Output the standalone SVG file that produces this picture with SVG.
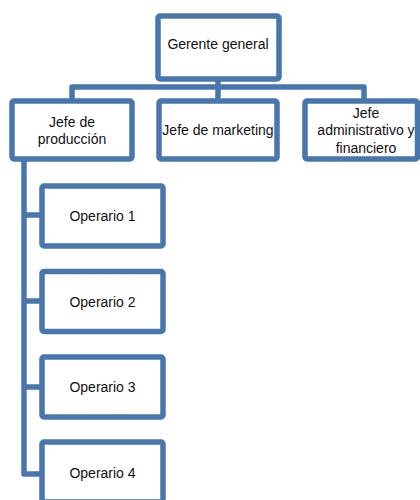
<svg xmlns="http://www.w3.org/2000/svg" width="420" height="500" viewBox="0 0 420 500">
<style>
.box{fill:#ffffff;stroke:#4a76ae;stroke-width:5.5}
.con{fill:none;stroke:#4a76ae;stroke-width:5.5;stroke-linejoin:round}
text{font-family:"Liberation Sans",Arial,sans-serif;font-size:14px;fill:#111111;text-anchor:middle}
</style>
<rect width="420" height="500" fill="#ffffff"/>
<g id="connectors">
<path class="con" d="M218 79V87M72 101V87H364V101M218 87V101"/>
<path class="con" d="M24 159V474H42M24 215H42M24 301H42M24 387H42"/>
</g>
<g id="gerente">
<rect class="box" x="158" y="16" width="121" height="63" rx="2"/>
<text x="218" y="49">Gerente general</text>
</g>
<g id="produccion">
<rect class="box" x="12" y="101" width="120" height="58" rx="2"/>
<text x="72" y="127">Jefe de</text>
<text x="72" y="144">producción</text>
</g>
<g id="marketing">
<rect class="box" x="159" y="101" width="118" height="58" rx="2"/>
<text x="218" y="135">Jefe de marketing</text>
</g>
<g id="administrativo">
<rect class="box" x="305" y="101" width="112.5" height="58" rx="2"/>
<text x="366" y="118">Jefe</text>
<text x="366" y="135">administrativo y</text>
<text x="366" y="153">financiero</text>
</g>
<g id="operario1">
<rect class="box" x="42" y="186" width="121" height="60" rx="2"/>
<text x="102.5" y="221">Operario 1</text>
</g>
<g id="operario2">
<rect class="box" x="42" y="271.5" width="121" height="60" rx="2"/>
<text x="102.5" y="306.5">Operario 2</text>
</g>
<g id="operario3">
<rect class="box" x="42" y="357" width="121" height="60" rx="2"/>
<text x="102.5" y="392">Operario 3</text>
</g>
<g id="operario4">
<rect class="box" x="42" y="442" width="121" height="60" rx="2"/>
<text x="102.5" y="478">Operario 4</text>
</g>
</svg>
